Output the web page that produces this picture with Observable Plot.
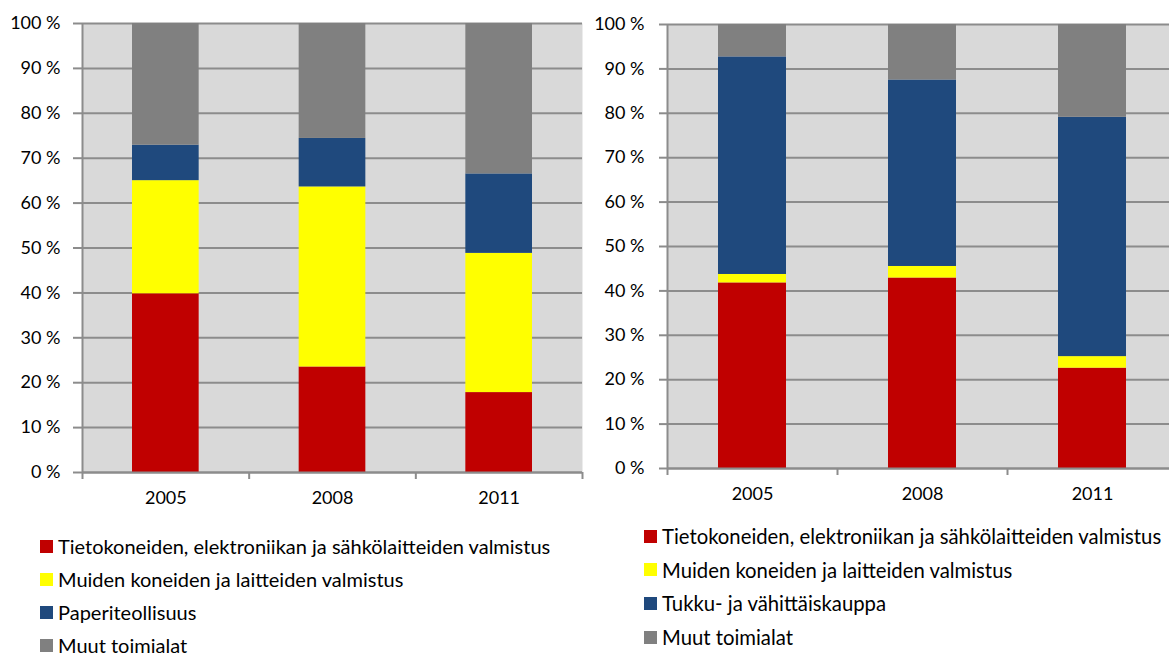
<!DOCTYPE html>
<html>
<head>
<meta charset="utf-8">
<script src="https://cdn.jsdelivr.net/npm/d3@7"></script>
<script src="https://cdn.jsdelivr.net/npm/@observablehq/plot@0.6"></script>
<style>
  html, body { margin: 0; padding: 0; background: #fff; width: 1169px; height: 655px; overflow: hidden; position: relative; font-family: Lato, "Liberation Sans", sans-serif; }
  .chart { position: absolute; top: 0; width: 600px; height: 520px; }
  .chart svg { max-width: none !important; }
  .legend { position: absolute; font-size: 20px; line-height: 16px; color: #000; }
  .legend .row { position: absolute; left: 0; white-space: nowrap; display: flex; align-items: center; height: 16px; }
  .legend .sw { width: 13px; height: 13px; margin-right: 5px; flex: none; }
</style>
</head>
<body>
<div id="left" class="chart" style="left:0px"></div>
<div id="right" class="chart" style="left:585px"></div>
<div id="legendLeft" class="legend" style="left:40px; top:538px"></div>
<div id="legendRight" class="legend" style="left:644px; top:528px; font-size:20.3px"></div>
<script>
// ---- data ----
const years = ["2005", "2008", "2011"];
const yTicks = [0, 10, 20, 30, 40, 50, 60, 70, 80, 90, 100];
const colors = ["#c00000", "#ffff00", "#1f497d", "#808080"];

const seriesLeft = [
  "Tietokoneiden, elektroniikan ja sähkölaitteiden valmistus",
  "Muiden koneiden ja laitteiden valmistus",
  "Paperiteollisuus",
  "Muut toimialat"
];
const leftTieto  = [39.8, 23.5, 17.8];
const leftMuiden = [25.2, 40.1, 31.0];
const leftPaperi = [7.9, 10.8, 17.7];
const leftMuut   = [27.1, 25.6, 33.5];

const seriesRight = [
  "Tietokoneiden, elektroniikan ja sähkölaitteiden valmistus",
  "Muiden koneiden ja laitteiden valmistus",
  "Tukku- ja vähittäiskauppa",
  "Muut toimialat"
];
const rightTieto  = [41.8, 42.9, 22.6];
const rightMuiden = [1.9, 2.6, 2.6];
const rightTukku  = [49.0, 42.0, 53.9];
const rightMuut   = [7.3, 12.5, 20.9];

// ---- build stacked rows ----
function buildRows(series, valueArrays) {
  const rows = [];
  years.forEach((year, i) => {
    let acc = 0;
    series.forEach((s, k) => {
      const v = valueArrays[k][i];
      rows.push({i, year, series: s, k, y1: acc, y2: acc + v});
      acc += v;
    });
  });
  return rows;
}

const gridColor = "#8c8c8c";

function makeChart(rows, series, opts) {
  return Plot.plot({
    width: opts.width,
    height: 520,
    marginLeft: 82,
    marginRight: opts.marginRight,
    marginTop: opts.marginTop,
    marginBottom: 520 - opts.bottom,
    style: {fontFamily: "Lato, 'Liberation Sans', sans-serif", fontSize: "18px", color: "#000", background: "transparent", overflow: "visible", maxWidth: "none"},
    x: {domain: [0, years.length], axis: null},
    y: {domain: [0, 100], axis: null},
    color: {domain: series, range: colors},
    marks: [
      Plot.frame({fill: "#d9d9d9", stroke: null}),
      Plot.gridY(yTicks, {stroke: gridColor, strokeOpacity: 1, strokeWidth: 2}),
      Plot.rect(rows, {
        x1: d => d.i + 0.3,
        x2: d => d.i + 0.7,
        y1: "y1",
        y2: "y2",
        fill: "series"
      }),
      Plot.ruleX([0], {stroke: gridColor, strokeWidth: 2}),
      Plot.ruleY([0], {stroke: gridColor, strokeWidth: 2}),
      Plot.axisY({ticks: yTicks, tickFormat: d => d + " %", tickSize: opts.tickSize, tickPadding: opts.tickPadding, stroke: gridColor, strokeWidth: 2, fill: "#000"}),
      Plot.axisX({ticks: d3.range(years.length + 1), tickFormat: () => "", tickSize: 7, stroke: gridColor, strokeWidth: 2}),
      Plot.axisX({ticks: years.map((_, i) => i + 0.5), tickFormat: v => years[Math.floor(v)], tickSize: 0, tickPadding: 19, fill: "#000"})
    ]
  });
}

const rowsLeft = buildRows(seriesLeft, [leftTieto, leftMuiden, leftPaperi, leftMuut]);
const rowsRight = buildRows(seriesRight, [rightTieto, rightMuiden, rightTukku, rightMuut]);

document.getElementById("left").appendChild(
  makeChart(rowsLeft, seriesLeft, {width: 600, marginRight: 18, marginTop: 23, bottom: 472, tickSize: 9, tickPadding: 13})
);
document.getElementById("right").appendChild(
  makeChart(rowsRight, seriesRight, {width: 600, marginRight: 8, marginTop: 24, bottom: 468, tickSize: 8, tickPadding: 15})
);

function makeLegend(el, series, spacing) {
  series.forEach((s, k) => {
    const row = document.createElement("div");
    row.className = "row";
    row.style.top = (k * spacing) + "px";
    const sw = document.createElement("span");
    sw.className = "sw";
    sw.style.background = colors[k];
    const tx = document.createElement("span");
    tx.textContent = s;
    row.appendChild(sw);
    row.appendChild(tx);
    el.appendChild(row);
  });
}
makeLegend(document.getElementById("legendLeft"), seriesLeft, 33);
makeLegend(document.getElementById("legendRight"), seriesRight, 33.7);
</script>
</body>
</html>
